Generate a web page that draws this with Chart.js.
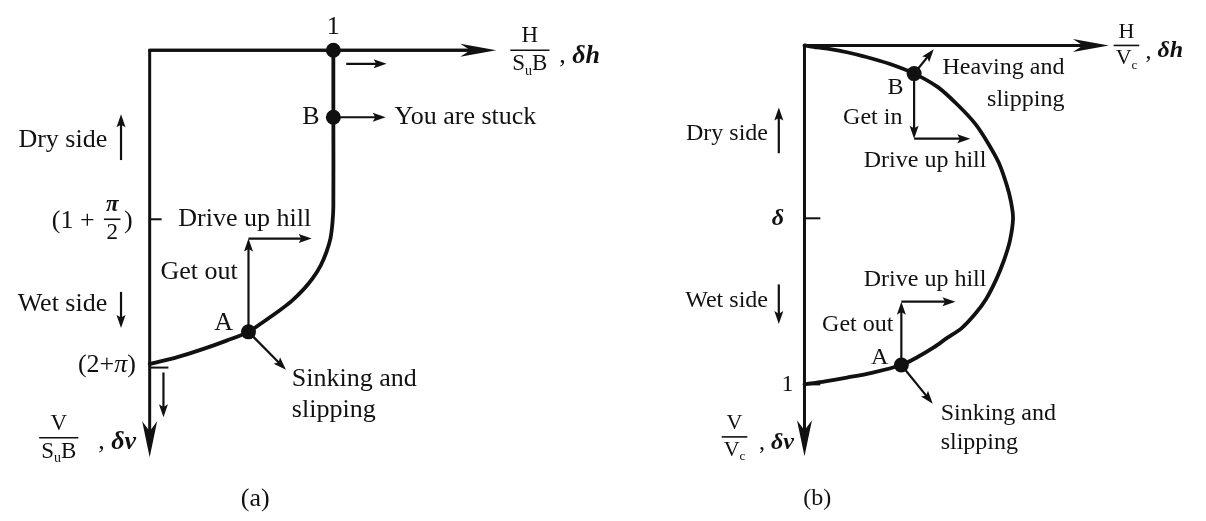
<!DOCTYPE html>
<html>
<head>
<meta charset="utf-8">
<script src="https://cdn.jsdelivr.net/npm/chart.js@4.4.1/dist/chart.umd.min.js"></script>
<style>
  html, body { margin: 0; background: #fff; }
  #wrap { width: 1206px; height: 521px; }
</style>
</head>
<body>
<div id="wrap"><canvas id="env" width="1206" height="521"></canvas></div>
<script>
// ============================================
// Failure envelopes: (a) H/SuB - V/SuB, (b) H/Vc - V/Vc
// ============================================

// ── panel (a) values (H/SuB across, V/SuB downwards) ──
const curveA_H = [1, 1, 1, 0.995, 0.984, 0.962, 0.930, 0.887, 0.839, 0.774, 0.699, 0.624, 0.538, 0.419, 0.301, 0.151, 0];
const curveA_V = [0, 1.098, 2.562, 2.833, 3.087, 3.310, 3.533, 3.740, 3.915, 4.106, 4.281, 4.440, 4.615, 4.758, 4.885, 5.029, 5.140];
const markA_names = ['1', 'B', 'A'];
const markA_H = [1, 1, 0.538];
const markA_V = [0, 1.098, 4.615];
const tickA_V = [2.77, 5.20];
const axisA_reach = [1.887, 6.668];

// ── panel (b) values (H/Vc across, V/Vc downwards) ──
const curveB_H = [0, 0.037, 0.075, 0.123, 0.172, 0.246, 0.318, 0.387, 0.444, 0.496, 0.533, 0.564, 0.587, 0.599,
                  0.605, 0.596, 0.579, 0.556, 0.527, 0.496, 0.456, 0.415, 0.375, 0.327, 0.281, 0.195, 0.123, 0.060, 0];
const curveB_V = [0, 0.006, 0.011, 0.020, 0.032, 0.054, 0.083, 0.123, 0.175, 0.232, 0.289, 0.347, 0.413, 0.461,
                  0.510, 0.576, 0.633, 0.691, 0.748, 0.791, 0.834, 0.862, 0.891, 0.920, 0.943, 0.966, 0.980, 0.991, 1.0];
const markB_names = ['B', 'A'];
const markB_H = [0.318, 0.281];
const markB_V = [0.083, 0.943];
const tickB_V = [0.51, 1.0];
const axisB_reach = [0.883, 1.212];

// arrows [x1, y1, x2, y2] in each panel's own units
const arrowsA = [
  [1.07, 0.223, 1.29, 0.223],
  [1, 1.098, 1.285, 1.098],
  [0.538, 4.615, 0.538, 3.087],
  [0.538, 3.087, 0.882, 3.087],
  [0.538, 4.615, 0.742, 5.235],
  [-0.156, 1.80, -0.156, 1.05],
  [-0.156, 3.96, -0.156, 4.55],
  [0.075, 5.28, 0.075, 6.015]
];
const arrowsB = [
  [0.318, 0.083, 0.375, 0.011],
  [0.318, 0.083, 0.318, 0.275],
  [0.318, 0.275, 0.481, 0.275],
  [0.281, 0.943, 0.281, 0.756],
  [0.281, 0.756, 0.438, 0.756],
  [0.281, 0.943, 0.372, 1.057],
  [-0.0745, 0.318, -0.0745, 0.183],
  [-0.0745, 0.705, -0.0745, 0.822]
];

// labels: [runs, x, y, align]; run style '' | 'i' | 'bi' | 'sub'
const textsA = [
  [[['1', '']], 1, -0.38, 'center'],
  [[['B', '']], 0.925, 1.098, 'right'],
  [[['You are stuck', '']], 1.333, 1.098, 'left'],
  [[['Dry side', '']], -0.231, 1.48, 'right'],
  [[['(1 +', '']], -0.30, 2.80, 'right'],
  [[[')', '']], -0.14, 2.80, 'left'],
  [[['Drive up hill', '']], 0.156, 2.77, 'left'],
  [[['Get out', '']], 0.059, 3.64, 'left'],
  [[['Wet side', '']], -0.231, 4.153, 'right'],
  [[['A', '']], 0.403, 4.47, 'center'],
  [[['(2+', ''], ['π', 'i'], [')', '']], -0.075, 5.156, 'right'],
  [[['Sinking and', '']], 0.774, 5.395, 'left'],
  [[['slipping', '']], 0.774, 5.904, 'left'],
  [[[', ', ''], ['δν', 'bi']], -0.28, 6.43, 'left'],
  [[[', ', ''], ['δh', 'bi']], 2.23, 0.1, 'left'],
  [[['(a)', '']], 0.575, 7.35, 'center']
];
const fracsA = [
  [[['π', 'bi']], [['2', '']], -0.204, 2.77],
  [[['H', '']], [['S', ''], ['u', 'sub'], ['B', '']], 2.07, 0],
  [[['V', '']], [['S', ''], ['u', 'sub'], ['B', '']], -0.495, 6.35]
];
const textsB = [
  [[['B', '']], 0.264, 0.126, 'center'],
  [[['Heaving and', '']], 0.754, 0.066, 'right'],
  [[['slipping', '']], 0.754, 0.16, 'right'],
  [[['Get in', '']], 0.284, 0.212, 'right'],
  [[['Drive up hill', '']], 0.172, 0.341, 'left'],
  [[['Dry side', '']], -0.106, 0.261, 'right'],
  [[['δ', 'bi']], -0.077, 0.51, 'center'],
  [[['Wet side', '']], -0.106, 0.754, 'right'],
  [[['Drive up hill', '']], 0.172, 0.691, 'left'],
  [[['Get out', '']], 0.258, 0.825, 'right'],
  [[['A', '']], 0.218, 0.92, 'center'],
  [[['1', '']], -0.049, 1.0, 'center'],
  [[['Sinking and', '']], 0.395, 1.086, 'left'],
  [[['slipping', '']], 0.395, 1.172, 'left'],
  [[[', ', ''], ['δν', 'bi']], -0.132, 1.172, 'left'],
  [[[', ', ''], ['δh', 'bi']], 0.989, 0.017, 'left'],
  [[['(b)', '']], 0.037, 1.338, 'center']
];
const fracsB = [
  [[['H', '']], [['V', ''], ['c', 'sub']], 0.934, 0],
  [[['V', '']], [['V', ''], ['c', 'sub']], -0.203, 1.155]
];

const INK = '#111';
const SERIF = '"Liberation Serif", "Times New Roman", serif';

const zip = (xs, ys) => xs.map((x, i) => ({ x, y: ys[i] }));

// ── drawing helpers ──
function runs(ctx, parts, x, y, size, align, measureOnly) {
  const items = parts.map(([t, s]) => {
    const sz = s === 'sub' ? Math.round(size * 0.6) : size;
    const f = (s === 'i' ? 'italic ' : s === 'bi' ? 'italic bold ' : '') + sz + 'px ' + SERIF;
    ctx.font = f;
    return { t, f, w: ctx.measureText(t).width, dy: s === 'sub' ? size * 0.3 : 0 };
  });
  const total = items.reduce((a, p) => a + p.w, 0);
  if (measureOnly) return total;
  let cx = align === 'right' ? x - total : align === 'center' ? x - total / 2 : x;
  ctx.textAlign = 'left';
  ctx.textBaseline = 'middle';
  items.forEach(p => { ctx.font = p.f; ctx.fillText(p.t, cx, y + p.dy); cx += p.w; });
  return total;
}

function frac(ctx, top, bottom, cx, ly, size) {
  const w = Math.max(runs(ctx, top, 0, 0, size, 'left', true), runs(ctx, bottom, 0, 0, size, 'left', true));
  runs(ctx, top, cx, ly - size * 0.62, size, 'center');
  runs(ctx, bottom, cx, ly + size * 0.6, size, 'center');
  ctx.lineWidth = 1.6;
  ctx.beginPath();
  ctx.moveTo(cx - w / 2 - 2, ly);
  ctx.lineTo(cx + w / 2 + 2, ly);
  ctx.stroke();
}

function arrow(ctx, x1, y1, x2, y2, len, half, notch) {
  const a = Math.atan2(y2 - y1, x2 - x1);
  const ux = Math.cos(a), uy = Math.sin(a), nx = -uy, ny = ux;
  ctx.beginPath();
  ctx.moveTo(x1, y1);
  ctx.lineTo(x2 - ux * len * 0.6, y2 - uy * len * 0.6);
  ctx.stroke();
  ctx.beginPath();
  ctx.moveTo(x2, y2);
  ctx.lineTo(x2 - ux * len + nx * half, y2 - uy * len + ny * half);
  ctx.lineTo(x2 - ux * len * notch, y2 - uy * len * notch);
  ctx.lineTo(x2 - ux * len - nx * half, y2 - uy * len - ny * half);
  ctx.closePath();
  ctx.fill();
}

const PANELS = [
  { xs: 'xa', ys: 'ya', reach: axisA_reach, ticks: tickA_V, tickLen: [0.065, 0.102],
    arrows: arrowsA, texts: textsA, fracs: fracsA, font: 26, fracFont: 23 },
  { xs: 'xb', ys: 'yb', reach: axisB_reach, ticks: tickB_V, tickLen: [0.046, 0.046],
    arrows: arrowsB, texts: textsB, fracs: fracsB, font: 24, fracFont: 22 }
];

// axes, ticks and arrows go under the curve, labels on top
const envelopeDecor = {
  id: 'envelopeDecor',
  beforeDatasetsDraw(chart) {
    const ctx = chart.ctx;
    ctx.save();
    ctx.strokeStyle = INK;
    ctx.fillStyle = INK;
    ctx.lineCap = 'butt';
    PANELS.forEach(p => {
      const sx = chart.scales[p.xs], sy = chart.scales[p.ys];
      const X = v => sx.getPixelForValue(v), Y = v => sy.getPixelForValue(v);
      ctx.lineWidth = 3;
      ctx.beginPath();
      ctx.moveTo(X(0) - 1.5, Y(0));
      ctx.lineTo(X(p.reach[0]) - 20, Y(0));
      ctx.stroke();
      arrow(ctx, X(0), Y(0), X(p.reach[0]), Y(0), 36, 6.5, 0.72);
      arrow(ctx, X(0), Y(0), X(0), Y(p.reach[1]), 36, 7.5, 0.72);
      ctx.lineWidth = 2;
      p.ticks.forEach((t, i) => {
        ctx.beginPath();
        ctx.moveTo(X(0), Y(t));
        ctx.lineTo(X(p.tickLen[i]), Y(t));
        ctx.stroke();
      });
      ctx.lineWidth = 2.2;
      p.arrows.forEach(([x1, y1, x2, y2]) => arrow(ctx, X(x1), Y(y1), X(x2), Y(y2), 13, 4.5, 0.8));
    });
    ctx.restore();
  },
  afterDatasetsDraw(chart) {
    const ctx = chart.ctx;
    ctx.save();
    ctx.fillStyle = INK;
    ctx.strokeStyle = INK;
    PANELS.forEach(p => {
      const sx = chart.scales[p.xs], sy = chart.scales[p.ys];
      const X = v => sx.getPixelForValue(v), Y = v => sy.getPixelForValue(v);
      p.texts.forEach(([parts, x, y, align]) => runs(ctx, parts, X(x), Y(y), p.font, align));
      p.fracs.forEach(([top, bottom, x, y]) => frac(ctx, top, bottom, X(x), Y(y), p.fracFont));
    });
    ctx.restore();
  }
};

const curveStyle = { showLine: true, borderColor: INK, borderWidth: 3.8, pointRadius: 0, tension: 0.3,
                     fill: false, borderJoinStyle: 'round', borderCapStyle: 'round' };
const markStyle = { showLine: false, pointRadius: 7.5, pointBackgroundColor: INK, pointBorderColor: INK, pointBorderWidth: 0 };

new Chart(document.getElementById('env'), {
  type: 'scatter',
  data: {
    datasets: [
      { ...curveStyle, label: 'envelope (a)', data: zip(curveA_H, curveA_V), xAxisID: 'xa', yAxisID: 'ya' },
      { ...markStyle, label: markA_names.join(','), data: zip(markA_H, markA_V), xAxisID: 'xa', yAxisID: 'ya' },
      { ...curveStyle, label: 'envelope (b)', data: zip(curveB_H, curveB_V), xAxisID: 'xb', yAxisID: 'yb' },
      { ...markStyle, label: markB_names.join(','), data: zip(markB_H, markB_V), xAxisID: 'xb', yAxisID: 'yb' }
    ]
  },
  options: {
    responsive: false,
    animation: false,
    events: [],
    layout: { padding: 0 },
    plugins: { legend: { display: false }, tooltip: { enabled: false } },
    // ranges chosen so both panels sit where they do in the figure
    scales: {
      xa: { type: 'linear', axis: 'x', display: false, bounds: 'data', min: -0.774, max: 5.710 },
      ya: { type: 'linear', axis: 'y', display: false, bounds: 'data', reverse: true, min: -0.700, max: 7.591 },
      xb: { type: 'linear', axis: 'x', display: false, bounds: 'data', min: -2.312, max: 1.143 },
      yb: { type: 'linear', axis: 'y', display: false, bounds: 'data', reverse: true, min: -0.112, max: 1.381 }
    }
  },
  plugins: [envelopeDecor]
});
</script>
</body>
</html>
